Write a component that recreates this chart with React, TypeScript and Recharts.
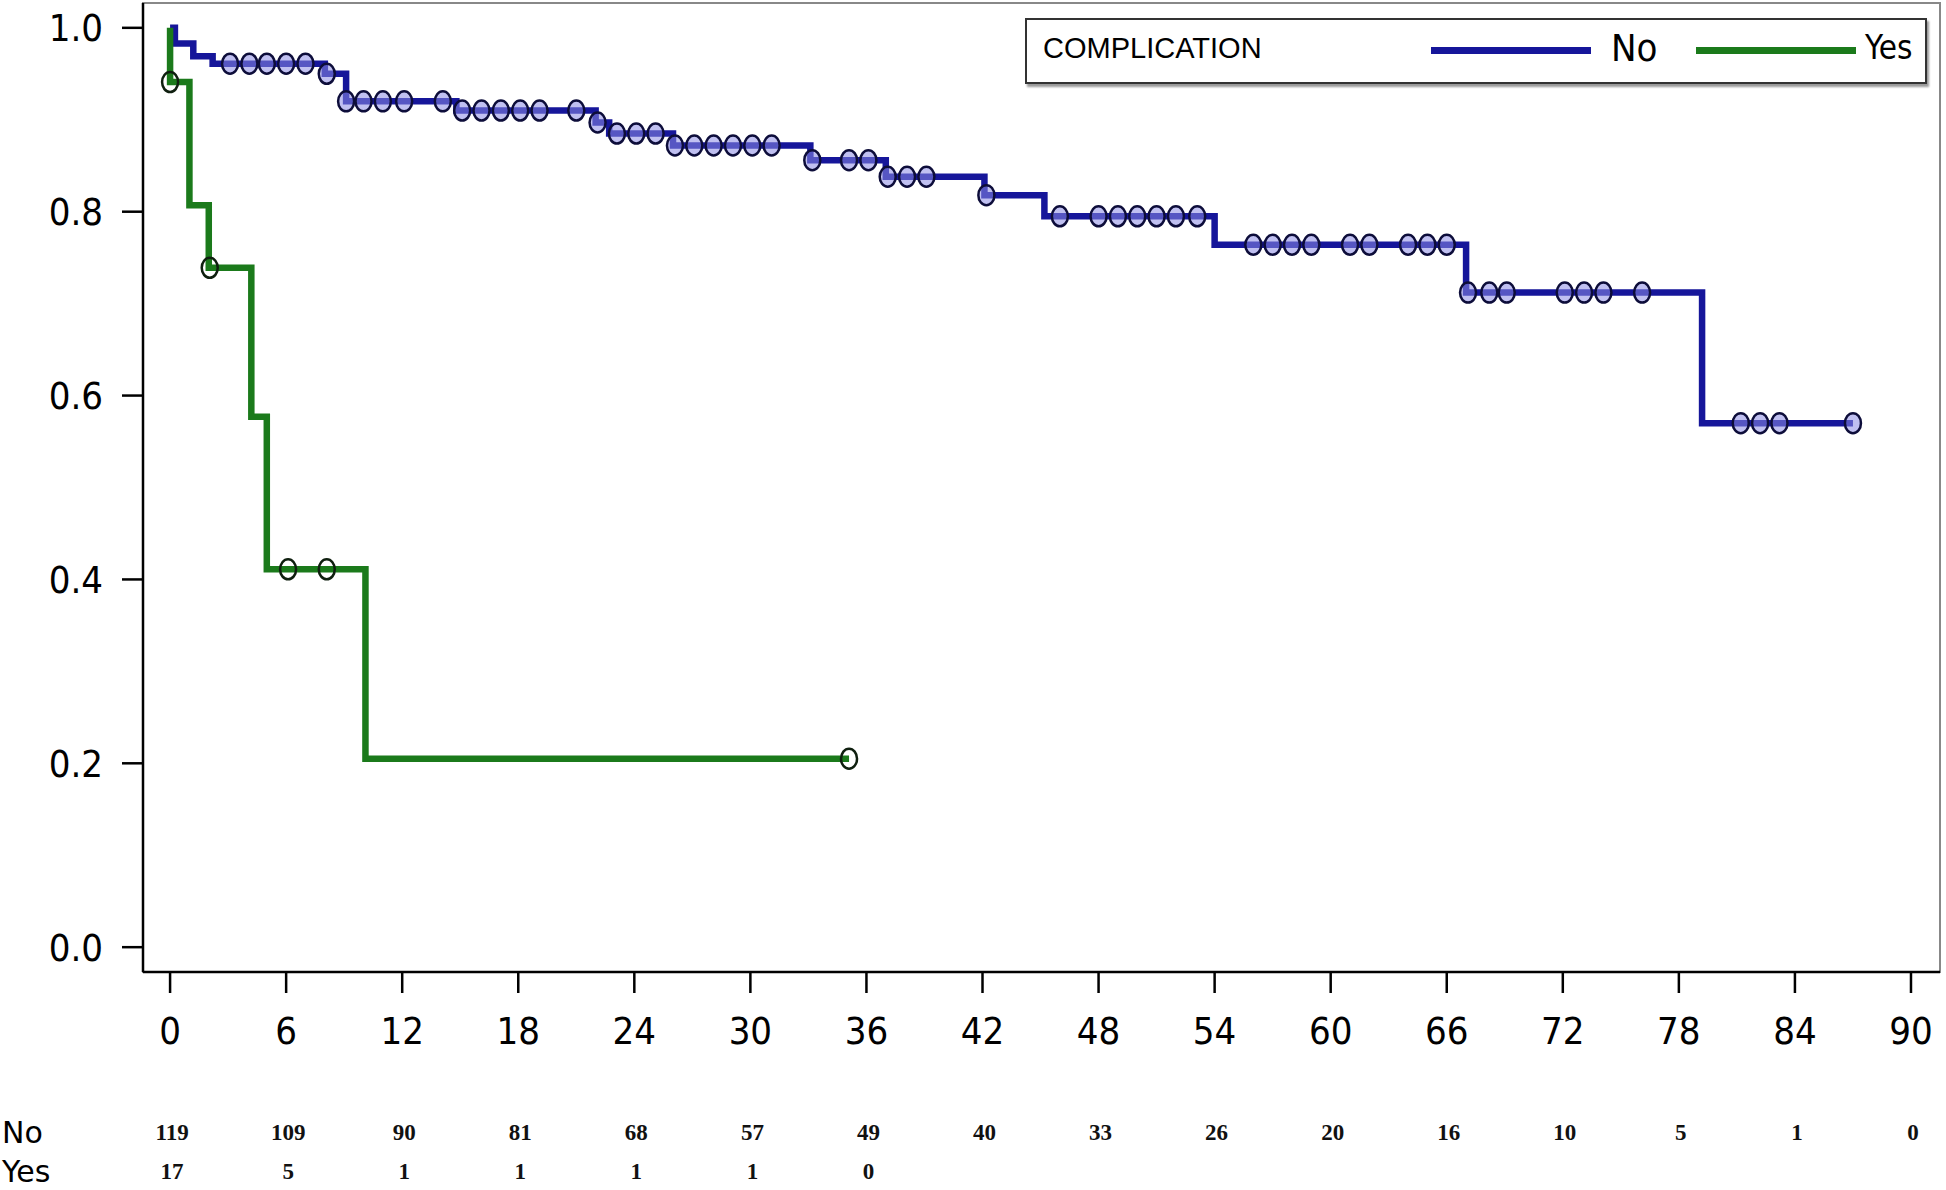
import React from 'react'
import {
    ComposedChart, Line, Scatter, XAxis, YAxis, ReferenceArea,
} from 'recharts'

// months since surgery where the curve steps, and the survival after each step
const NO_TIMES = [0, 0.25, 1.2, 2.2, 8.0, 9.1, 14.8, 22.0, 22.7, 26.0, 33.1, 37.0, 42.1, 45.2, 54.0, 67.0, 79.2, 87.0]
const NO_SURV = [1.0, 0.983, 0.969, 0.961, 0.95, 0.92, 0.91, 0.897, 0.885, 0.872, 0.856, 0.838, 0.818, 0.795, 0.764, 0.712, 0.57, 0.57]
const NO_CENSORED = [
    3.1, 4.1, 5.0, 6.0, 7.0, 8.1, 9.1, 10.0, 11.0, 12.1, 14.1,
    15.1, 16.1, 17.1, 18.1, 19.1, 21.0, 22.1, 23.1, 24.1, 25.1,
    26.1, 27.1, 28.1, 29.1, 30.1, 31.1, 33.2, 35.1, 36.1, 37.1, 38.1, 39.1,
    42.2, 46.0, 48.0, 49.0, 50.0, 51.0, 52.0, 53.1,
    56.0, 57.0, 58.0, 59.0, 61.0, 62.0, 64.0, 65.0, 66.0,
    67.1, 68.2, 69.1, 72.1, 73.1, 74.1, 76.1, 81.2, 82.2, 83.2, 87.0,
]

const YES_TIMES = [0, 0, 1.0, 2.0, 4.2, 5.0, 10.1, 35.1]
const YES_SURV = [1.0, 0.941, 0.807, 0.739, 0.577, 0.411, 0.205, 0.205]
const YES_CENSORED = [0, 2.05, 6.1, 8.1, 35.1]

const MONTH_TICKS = [0, 6, 12, 18, 24, 30, 36, 42, 48, 54, 60, 66, 72, 78, 84, 90]
const SURV_TICKS = [0, 0.2, 0.4, 0.6, 0.8, 1.0]
const AT_RISK_NO = [119, 109, 90, 81, 68, 57, 49, 40, 33, 26, 20, 16, 10, 5, 1, 0]
const AT_RISK_YES = [17, 5, 1, 1, 1, 1, 0]

const BLUE = '#16169a'
const GREEN = '#1b7a1b'
const NARROW = '"Liberation Sans Narrow", "DejaVu Sans Condensed", "Arial Narrow", sans-serif'

const toSteps = (times: number[], surv: number[]) => times.map((t, i) => ({ t, v: surv[i] }))

const survAt = (times: number[], surv: number[], t: number) => {
    let v = surv[0]
    times.forEach((tt, i) => { if (tt <= t) v = surv[i] })
    return v
}

const noSteps = toSteps(NO_TIMES, NO_SURV)
const yesSteps = toSteps(YES_TIMES, YES_SURV)
const noCens = NO_CENSORED.map(t => ({ t, v: survAt(NO_TIMES, NO_SURV, t) }))
const yesCens = YES_CENSORED.map(t => ({ t, v: survAt(YES_TIMES, YES_SURV, t) }))

const BlueMark = (p: any) => (
    <ellipse cx={p.cx} cy={p.cy} rx={8} ry={10} fill="rgba(140,140,230,0.55)" stroke="#0d0d3a" strokeWidth={2.5} />
)
const GreenMark = (p: any) => (
    <ellipse cx={p.cx} cy={p.cy} rx={8} ry={10} fill="none" stroke="#0f1f0f" strokeWidth={2.5} />
)

const riskTick = (counts: number[], label: string, dy: number) => (p: any) => {
    const idx = MONTH_TICKS.indexOf(p.payload.value)
    const n = counts[idx]
    return (
        <g>
            {idx === 0 && (
                <text x={2} y={p.y + dy} dominantBaseline="central" fontSize={30}
                      fontFamily='"DejaVu Sans", sans-serif' fill="#000">{label}</text>
            )}
            {n !== undefined && (
                <text x={p.x + 2} y={p.y + dy} textAnchor="middle" dominantBaseline="central"
                      fontSize={23} fontWeight="bold" fontFamily='"Liberation Serif", serif' fill="#111">{n}</text>
            )}
        </g>
    )
}

function Legend() {
    return (
        <div style={{
            position: 'absolute', left: 1025, top: 18, width: 898, height: 62,
            border: '2px solid #333', boxShadow: '2px 3px 2px #999', background: '#fff',
        }}>
            <span style={{ position: 'absolute', left: 16, top: 12, fontSize: 29, fontFamily: '"Liberation Sans", sans-serif' }}>
                COMPLICATION
            </span>
            <div style={{ position: 'absolute', left: 404, top: 27, width: 160, height: 7, background: BLUE }} />
            <span style={{ position: 'absolute', left: 584, top: 6, fontSize: 38, fontFamily: NARROW }}>No</span>
            <div style={{ position: 'absolute', left: 669, top: 27, width: 160, height: 7, background: GREEN }} />
            <span style={{ position: 'absolute', left: 838, top: 8, fontSize: 33, fontFamily: NARROW }}>Yes</span>
        </div>
    )
}

export default function App() {
    const tickFont = { fontSize: 38, fontFamily: NARROW, fill: '#000' }
    return (
        <div style={{ position: 'absolute', left: 0, top: 0, width: 1946, height: 1190, background: '#fff' }}>
            <ComposedChart width={1946} height={1190} margin={{ top: 3, right: 6, left: 0, bottom: 0 }}>
                <ReferenceArea x1={-1.4} x2={91.5} y1={-0.027} y2={1.027} fill="none" stroke="#888" strokeWidth={2} ifOverflow="visible" />
                <XAxis
                    type="number" dataKey="t" domain={[-1.4, 91.5]} ticks={MONTH_TICKS} allowDataOverflow
                    height={100} tickSize={21} tickMargin={24} tick={tickFont}
                    stroke="#000" strokeWidth={2.5} interval={0}
                />
                <XAxis
                    xAxisId="riskNo" type="number" dataKey="t" domain={[-1.4, 91.5]} ticks={MONTH_TICKS} allowDataOverflow
                    height={80} axisLine={false} tickLine={false} tickSize={0} tickMargin={0} interval={0}
                    tick={riskTick(AT_RISK_NO, 'No', 60)}
                />
                <XAxis
                    xAxisId="riskYes" type="number" dataKey="t" domain={[-1.4, 91.5]} ticks={MONTH_TICKS} allowDataOverflow
                    height={38} axisLine={false} tickLine={false} tickSize={0} tickMargin={0} interval={0}
                    tick={riskTick(AT_RISK_YES, 'Yes', 19)}
                />
                <YAxis
                    type="number" dataKey="v" domain={[-0.027, 1.027]} ticks={SURV_TICKS} allowDataOverflow
                    width={143} tickSize={21} tickMargin={19} tick={tickFont} interval={0}
                    tickFormatter={(v: number) => v.toFixed(1)} stroke="#000" strokeWidth={2.5}
                />
                <Line data={noSteps} dataKey="v" type="stepAfter" stroke={BLUE} strokeWidth={6.5}
                      dot={false} activeDot={false} isAnimationActive={false} strokeLinejoin="miter" />
                <Line data={yesSteps} dataKey="v" type="stepAfter" stroke={GREEN} strokeWidth={6.5}
                      dot={false} activeDot={false} isAnimationActive={false} strokeLinejoin="miter" />
                <Scatter data={noCens} dataKey="v" shape={BlueMark} isAnimationActive={false} />
                <Scatter data={yesCens} dataKey="v" shape={GreenMark} isAnimationActive={false} />
            </ComposedChart>
            <Legend />
        </div>
    )
}
